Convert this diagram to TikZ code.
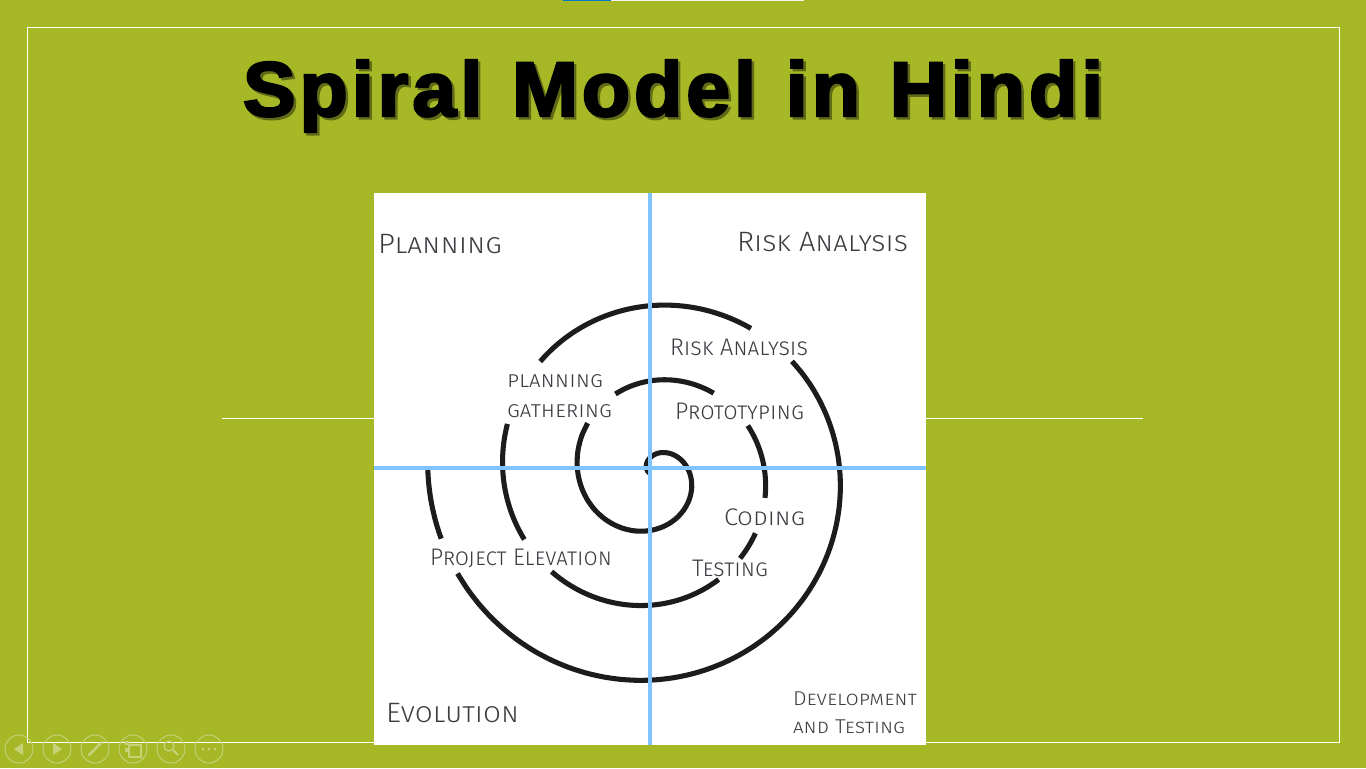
\documentclass[tikz,border=0pt]{standalone}
\usepackage{fontspec}
\usepackage{graphicx}
\setmainfont{Fira Sans}
\newfontfamily\labelfont[Letters=SmallCaps]{Fira Sans Light}
\newfontfamily\titlefont[FakeBold=3,LetterSpace=5,WordSpace=1.15]{Liberation Sans Bold}
\definecolor{bgolive}{HTML}{A7B827}
\definecolor{axisblue}{HTML}{80C4FF}
\definecolor{inkgrey}{HTML}{3C3C42}
\definecolor{spiralink}{HTML}{1C1C1C}
\definecolor{iconpale}{HTML}{C6D27A}
\tikzset{
  spiralseg/.style={draw=spiralink,line width=3.8pt,line cap=butt},
  axisline/.style={draw=axisblue,line width=3pt},
  thinwhite/.style={draw=white,line width=0.6pt},
  lab/.style={anchor=base west,inner sep=0pt,outer sep=0pt,text=inkgrey},
  iconring/.style={draw=iconpale,line width=0.7pt},
}
\newlength\fitlen
% width in px, font size in pt, text
\newcommand{\fitw}[3]{\setlength\fitlen{#1pt}\setlength\fitlen{0.75\fitlen}\resizebox{\fitlen}{\height}{\labelfont\fontsize{#2}{#2}\selectfont #3}}
\newcommand{\titletext}{\setlength\fitlen{645pt}\resizebox{\fitlen}{\height}{\titlefont\fontsize{58}{70}\selectfont Spiral Model in Hindi}}
% one arc of the spiral, from angle #1 to angle #2 clockwise on screen
\newcommand{\spiralarc}[2]{\draw[spiralseg] plot[smooth,domain=#1:#2,samples=40,variable=\t] ({652.75+(37.25+\t/4.8)*cos(\t)},{474+(37.25+\t/4.8)*sin(\t)});}
\begin{document}
\begin{tikzpicture}[x=0.75pt,y=-0.75pt]
\useasboundingbox (0,0) rectangle (1366,768);
\fill[bgolive] (0,0) rectangle (1366,768);
% top progress bar
\fill[white!90!gray] (611,0) rectangle (804,1);
\fill[blue!40!cyan!80!black] (563,0) rectangle (611,1);
% frame and rules
\draw[thinwhite] (27,27) rectangle (1339,742);
\draw[thinwhite] (222,418) -- (374,418);
\draw[thinwhite] (926,418) -- (1143,418);
% title
\node[anchor=base,inner sep=0pt,text=black!42!bgolive] (titleshadow) at (675.5,118.5) {\titletext};
\node[anchor=base,inner sep=0pt,text=black] (title) at (673,116) {\titletext};
% white panel
\fill[white] (374,193) rectangle (926,745);
% spiral
\spiralarc{-170}{218}
\spiralarc{245}{307}
\spiralarc{333}{372}
\spiralarc{390}{404}
\spiralarc{418}{496}
\spiralarc{513}{559}
\spiralarc{585}{664}
\spiralarc{681}{873}
\spiralarc{883}{902}
% axes
\draw[axisline] (650,193) -- (650,745);
\draw[axisline] (374,468) -- (926,468);
% labels
\node[lab] (l1) at (378,253) {\fitw{124}{21}{Planning}};
\node[lab] (l2) at (737,251) {\fitw{171}{21}{Risk Analysis}};
\node[lab] (l3) at (670,355) {\fitw{138}{18}{Risk Analysis}};
\node[lab] (l4) at (507,387) {\fitw{96}{17}{planning}};
\node[lab] (l5) at (507,417) {\fitw{105}{17}{gathering}};
\node[lab] (l6) at (675,419) {\fitw{129}{18}{Prototyping}};
\node[lab] (l7) at (724,525) {\fitw{81}{18}{Coding}};
\node[lab] (l8) at (692,576) {\fitw{76}{18}{Testing}};
\node[lab] (l9) at (430,565) {\fitw{182}{18}{Project Elevation}};
\node[lab] (l10) at (386,722) {\fitw{133}{21}{Evolution}};
\node[lab] (l11) at (793,705) {\fitw{124}{15}{Development}};
\node[lab] (l12) at (793,733) {\fitw{112}{15}{and Testing}};
% presenter icons
\foreach \cx in {19,57,95,133,171,209}{\draw[iconring] (\cx,749) circle (14);}
\fill[iconpale] (23,743) -- (23,755) -- (14,749) -- cycle;
\fill[iconpale] (53,743) -- (53,755) -- (62,749) -- cycle;
\draw[iconpale,line width=2pt,line cap=round] (89,755) -- (102,742);
\fill[iconpale] (125,741) rectangle (129,745);
\fill[iconpale] (125,748) rectangle (129,752);
\draw[iconpale,line width=1pt] (129,745) rectangle (141,757);
\draw[iconpale,line width=1pt] (169,746) circle (5);
\draw[iconpale,line width=1.5pt] (173,750) -- (178,755);
\foreach \cx in {203,209,215}{\fill[iconpale] (\cx,749) circle (1.5);}
\end{tikzpicture}
\end{document}
